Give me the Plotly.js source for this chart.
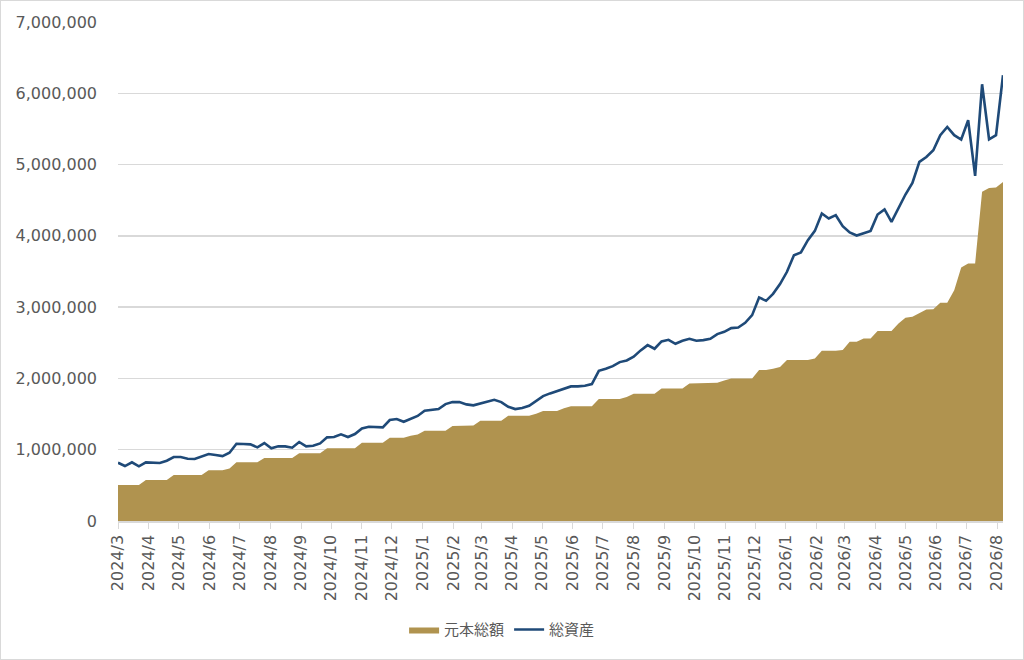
<!DOCTYPE html>
<html>
<head>
<meta charset="utf-8">
<script src="https://cdn.plot.ly/plotly-3.0.1.min.js"></script>
<style>
  body { margin: 0; background: #fff; }
  #frame { position: absolute; left: 0; top: 0; width: 1022px; height: 658px; border: 1px solid #d9d9d9; }
  #chart { width: 1022px; height: 658px; }
</style>
</head>
<body>
<div id="frame"><div id="chart"></div></div>
<script>
// weekly snapshots, first one on 2024-03-01
const startDate = '2024-03-01';
const stepDays = 7;

// 元本総額 (yen, thousands)
const principal = [
  505, 505, 505, 505, 575, 575, 575, 575, 645, 645,
  645, 645, 645, 711, 711, 711, 735, 823, 823, 823,
  823, 885, 885, 885, 885, 885, 949, 949, 949, 949,
  1019, 1019, 1019, 1019, 1019, 1098, 1098, 1098, 1098, 1168,
  1168, 1168, 1196, 1215, 1266, 1266, 1266, 1266, 1332, 1332,
  1332, 1340, 1406, 1406, 1406, 1406, 1476, 1476, 1476, 1476,
  1505, 1542, 1542, 1542, 1580, 1610, 1610, 1610, 1610, 1710,
  1710, 1710, 1710, 1740, 1785, 1785, 1785, 1785, 1860, 1860,
  1860, 1860, 1930, 1930, 1930, 1930, 1940, 1970, 2000, 2000,
  2000, 2000, 2117, 2117, 2135, 2160, 2257, 2257, 2257, 2257,
  2280, 2388, 2388, 2388, 2400, 2514, 2514, 2561, 2561, 2664,
  2664, 2664, 2771, 2850, 2864, 2920, 2968, 2970, 3060, 3060,
  3238, 3557, 3613, 3613, 4617, 4673, 4680, 4757
];

// 総資産 (yen, thousands)
const totalAssets = [
  817, 771, 823, 767, 823, 823, 813, 846, 897, 897,
  874, 869, 902, 939, 925, 911, 958, 1084, 1080, 1075,
  1033, 1093, 1019, 1047, 1047, 1028, 1108, 1047, 1056, 1089,
  1173, 1178, 1215, 1178, 1220, 1299, 1322, 1313, 1313, 1416,
  1430, 1392, 1434, 1474, 1547, 1556, 1570, 1640, 1668, 1668,
  1636, 1622, 1650, 1668, 1701, 1668, 1603, 1570, 1584, 1617,
  1687, 1752, 1790, 1823, 1852, 1888, 1888, 1897, 1921, 2107,
  2135, 2173, 2229, 2252, 2304, 2393, 2467, 2416, 2519, 2542,
  2486, 2528, 2556, 2528, 2537, 2556, 2622, 2654, 2706, 2715,
  2780, 2888, 3136, 3089, 3187, 3323, 3496, 3729, 3767, 3939,
  4070, 4314, 4244, 4290, 4136, 4047, 4005, 4033, 4070, 4300,
  4370, 4197, 4393, 4580, 4743, 5037, 5107, 5201, 5412, 5528,
  5412, 5351, 5622, 4841, 6127, 5355, 5412, 6253
];

const yTicks = [0, 1000000, 2000000, 3000000, 4000000, 5000000, 6000000, 7000000];

function weekDates(n) {
  let out = [];
  let d0 = new Date(startDate + 'T00:00:00Z');
  for (let i = 0; i < n; i++) {
    let d = new Date(d0.getTime() + i * stepDays * 86400000);
    out.push(d.toISOString().slice(0, 10));
  }
  return out;
}

let dates = weekDates(totalAssets.length);

let areaTrace = {
  x: dates,
  y: principal.map(v => v * 1000),
  name: '元本総額',
  type: 'scatter',
  mode: 'lines',
  fill: 'tozeroy',
  fillcolor: '#b0934f',
  line: {width: 0, color: '#b0934f'},
  hoverinfo: 'skip'
};

let lineTrace = {
  x: dates,
  y: totalAssets.map(v => v * 1000),
  name: '総資産',
  type: 'scatter',
  mode: 'lines',
  line: {width: 2.6, color: '#1f4a78'},
  hoverinfo: 'skip'
};

let layout = {
  width: 1022,
  height: 658,
  margin: {l: 117, r: 20, t: 21, b: 138},
  paper_bgcolor: '#fff',
  plot_bgcolor: '#fff',
  font: {family: 'DejaVu Sans, sans-serif', size: 16, color: '#595959'},
  showlegend: true,
  legend: {
    orientation: 'h',
    x: 0.434, xanchor: 'center',
    y: -0.218, yanchor: 'middle',
    font: {family: 'Noto Sans CJK JP, sans-serif', size: 15, color: '#595959'},
    itemwidth: 30
  },
  xaxis: {
    type: 'date',
    range: [dates[0], dates[dates.length - 1]],
    tick0: '2024-03-01',
    dtick: 'M1',
    tickformat: '%Y/%-m',
    tickangle: -90,
    ticks: 'outside',
    ticklen: 6,
    tickcolor: '#d9d9d9',
    showline: true,
    linecolor: '#d9d9d9',
    linewidth: 1.5,
    showgrid: false,
    zeroline: false,
    tickfont: {size: 16, color: '#595959'}
  },
  yaxis: {
    range: [0, 7000000],
    tickvals: yTicks,
    tickformat: ',d',
    showgrid: true,
    gridcolor: '#d9d9d9',
    gridwidth: 1.3,
    zeroline: false,
    ticks: '',
    ticklabelstandoff: 20,
    tickfont: {size: 16, color: '#595959'}
  }
};

Plotly.newPlot('chart', [areaTrace, lineTrace], layout, {displayModeBar: false, staticPlot: true});
</script>
</body>
</html>
